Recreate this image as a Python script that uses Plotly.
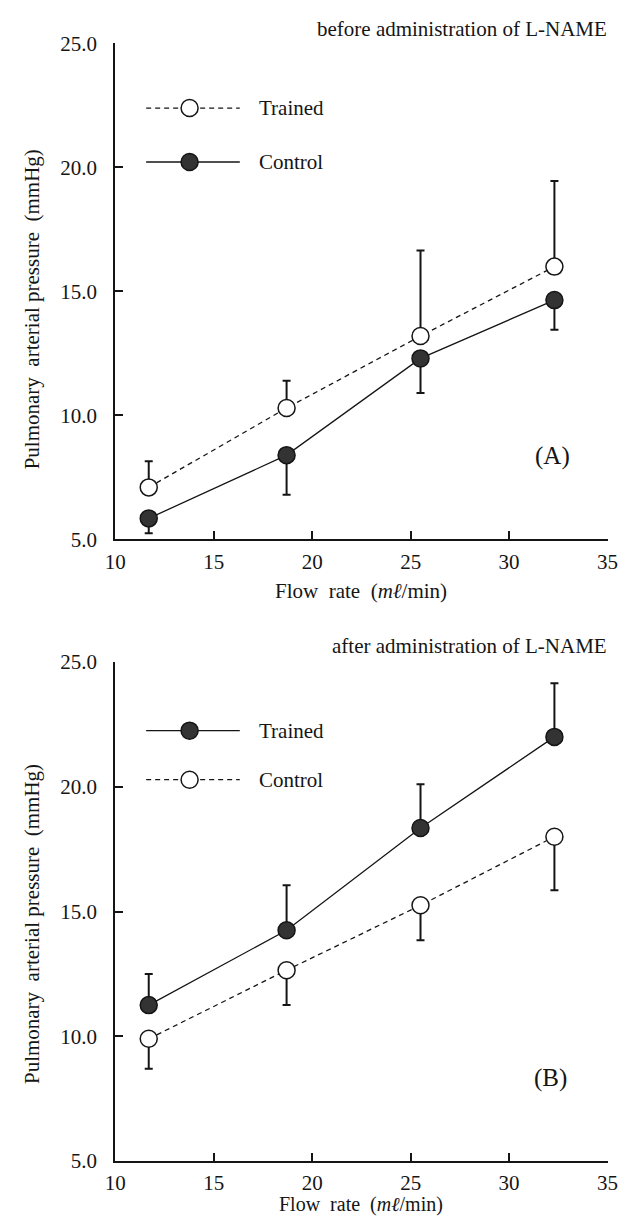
import plotly.graph_objects as go

# ---------------- data ----------------
flow = [11.7, 18.7, 25.5, 32.3]
x_ticks = [10, 15, 20, 25, 30, 35]
y_ticks = [5, 10, 15, 20, 25]
y_tick_text = ["5.0", "10.0", "15.0", "20.0", "25.0"]

# Panel A: before administration of L-NAME
a_trained = [7.1, 10.3, 13.2, 16.0]
a_trained_err = [1.05, 1.1, 3.45, 3.45]
a_control = [5.85, 8.4, 12.3, 14.65]
a_control_err = [0.6, 1.6, 1.4, 1.2]

# Panel B: after administration of L-NAME
b_trained = [11.25, 14.25, 18.35, 22.0]
b_trained_err = [1.25, 1.8, 1.75, 2.15]
b_control = [9.9, 12.65, 15.25, 18.0]
b_control_err = [1.2, 1.4, 1.4, 2.15]

title_a = "before administration of L-NAME"
title_b = "after administration of L-NAME"
x_title = "Flow\u2002rate\u2002(<i>m\u2113</i>/min)"
y_title = "Pulmonary\u2002arterial pressure\u2002(mmHg)"

# ---------------- style ----------------
W, H = 635, 1227
FONT = "Liberation Serif, Times New Roman, serif"
INK = "#151515"
FILL = "#333333"


def px(x):
    return x / W


def py(y):
    return 1 - y / H


fig = go.Figure()


def add_series(xa, ya, y, err, filled, dashed, up):
    zeros = [0] * len(err)
    fig.add_trace(go.Scatter(
        x=flow, y=y, xaxis=xa, yaxis=ya, mode="lines+markers",
        line=dict(color=INK, width=1.3, dash="5px,4px" if dashed else "solid"),
        marker=dict(size=17, color=FILL if filled else "white",
                    line=dict(color=INK, width=1.5)),
        error_y=dict(type="data", symmetric=False,
                     array=err if up else zeros,
                     arrayminus=zeros if up else err,
                     thickness=2, width=4, color=INK),
        cliponaxis=False, showlegend=False, hoverinfo="skip"))


add_series("x", "y", a_trained, a_trained_err, False, True, True)
add_series("x", "y", a_control, a_control_err, True, False, False)
add_series("x2", "y2", b_trained, b_trained_err, True, False, True)
add_series("x2", "y2", b_control, b_control_err, False, True, False)

xdom = [px(108), px(618)]
ydom_a = [py(538), py(32)]
ydom_b = [py(1172), py(663)]

axis_common = dict(showline=True, linecolor=INK, linewidth=2, ticks="inside",
                   ticklen=8, tickwidth=2, tickcolor=INK, showgrid=False,
                   zeroline=False, mirror=False,
                   tickfont=dict(family=FONT, size=21, color=INK))

fig.update_layout(
    width=W, height=H, margin=dict(l=0, r=0, t=0, b=0),
    paper_bgcolor="white", plot_bgcolor="white",
    xaxis=dict(domain=xdom, anchor="y", range=[10, 35], tickvals=x_ticks,
               ticklabelstandoff=2, **axis_common),
    yaxis=dict(domain=ydom_a, anchor="x", range=[5, 25], tickvals=y_ticks,
               ticktext=y_tick_text, ticklabelstandoff=12, **axis_common),
    xaxis2=dict(domain=xdom, anchor="y2", range=[10, 35], tickvals=x_ticks,
                ticklabelstandoff=2, **axis_common),
    yaxis2=dict(domain=ydom_b, anchor="x2", range=[5, 25], tickvals=y_ticks,
                ticktext=y_tick_text, ticklabelstandoff=12, **axis_common),
)

annots = []


def text(x, y, s, size=21, xanchor="center", angle=0):
    annots.append(dict(x=px(x), y=py(y), xref="paper", yref="paper", text=s,
                       showarrow=False, xanchor=xanchor, yanchor="middle",
                       textangle=angle,
                       font=dict(family=FONT, size=size, color=INK)))


# titles
text(619, 17, title_a, size=21, xanchor="right")
text(619, 647, title_b, size=21, xanchor="right")
# axis titles
text(363, 591, x_title, size=21)
text(363, 1216, x_title, size=20)
text(22, 303, y_title, size=21, angle=-90)
text(22, 930, y_title, size=21, angle=-90)
# panel labels
text(561, 453, "(A)", size=25)
text(559, 1087, "(B)", size=25)

shapes = []


def legend_item(yc, label, filled, dashed):
    shapes.append(dict(type="line", xref="paper", yref="paper",
                       x0=px(140), x1=px(237), y0=py(yc), y1=py(yc),
                       line=dict(color=INK, width=1.3,
                                 dash="5px,4px" if dashed else "solid")))
    shapes.append(dict(type="circle", xref="paper", yref="paper",
                       xsizemode="pixel", ysizemode="pixel",
                       xanchor=px(185), yanchor=py(yc),
                       x0=-8.5, x1=8.5, y0=-8.5, y1=8.5,
                       fillcolor=FILL if filled else "white",
                       line=dict(color=INK, width=1.5)))
    text(255, yc, label, size=21, xanchor="left")


legend_item(98, "Trained", False, True)
legend_item(153, "Control", True, False)
legend_item(733, "Trained", True, False)
legend_item(783, "Control", False, True)

fig.update_layout(annotations=annots, shapes=shapes)

fig.write_html("out.html")
